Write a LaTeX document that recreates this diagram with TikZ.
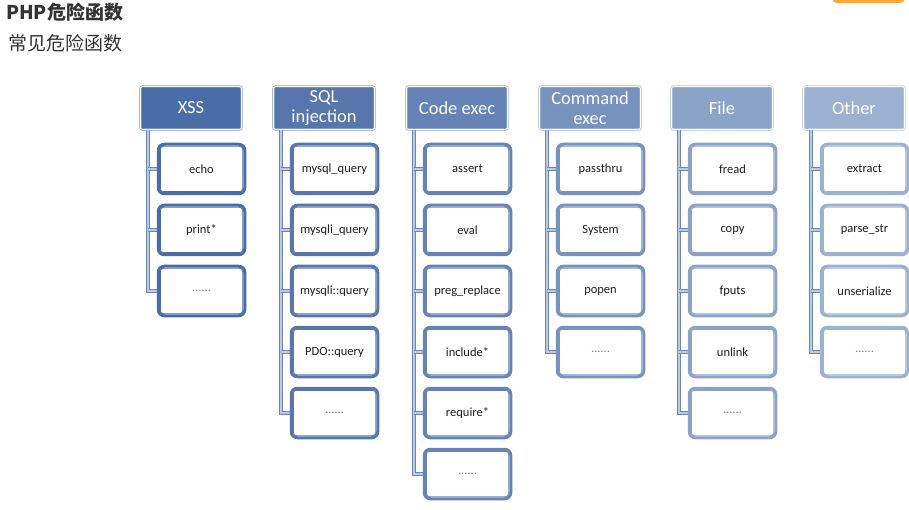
\documentclass[tikz,border=0pt]{standalone}
\usepackage{fontspec}
\setmainfont{Carlito}
\newfontfamily\cjk{Noto Sans CJK SC}
\definecolor{cA}{HTML}{4B6DA7}
\definecolor{cB}{HTML}{5676AC}
\definecolor{cC}{HTML}{6683B5}
\definecolor{cD}{HTML}{7892BE}
\definecolor{cE}{HTML}{8AA3C7}
\definecolor{cF}{HTML}{9CB1D0}
\definecolor{conn}{HTML}{6A86B8}
\definecolor{txt}{HTML}{333333}
\definecolor{ctxt}{HTML}{1E1E1E}
\definecolor{orng}{HTML}{FFA63C}
\tikzset{
  hdr/.style={fill=#1, draw=#1!75, double=white, line width=0.6pt, double distance=1pt,
    rounded corners=2pt, minimum width=101pt, minimum height=43pt, text=white,
    font=\fontsize{18.5}{20}\selectfont, align=center, inner sep=0pt},
  chd/.style={fill=white, draw=#1, line width=3pt, rounded corners=6pt,
    minimum width=86.5pt, minimum height=49.5pt, text=ctxt,
    font=\fontsize{12.5}{14}\selectfont, inner sep=0pt},
  inr/.style={draw=#1, line width=0.8pt, rounded corners=3pt},
  cn/.style={draw=conn, double=conn!45!white, line width=1.1pt, double distance=1.3pt}
}
\newcommand\childbox[5]{%
  \node[chd=#2] (#1) at (#3,#4) {#5};
  \draw[inr=#2] ([shift={(3.6pt,3.6pt)}]#1.south west) rectangle ([shift={(-3.6pt,-3.6pt)}]#1.north east);
}
\newcommand\dotstxt{\textcolor{gray}{......}}
\begin{document}
\begin{tikzpicture}[x=1pt,y=-1pt]
\useasboundingbox (0,0) rectangle (909,510);
% title
\node[anchor=west, text=txt, inner sep=0pt, font=\cjk\bfseries\fontsize{19}{22}\selectfont] (t1) at (6,12) {PHP危险函数};
\node[anchor=west, text=txt, inner sep=0pt, font=\cjk\fontsize{19}{22}\selectfont] (t2) at (8,43) {常见危险函数};
\fill[orng, rounded corners=5pt] (832,-10) rectangle (905,3);

% headers
\node[hdr=cA] (hA) at (191,108) {XSS};
\node[hdr=cB] (hB) at (324,108) {SQL\\injection};
\node[hdr=cC] (hC) at (457,108) {Code exec};
\node[hdr=cD] (hD) at (590,108) {Command\\exec};
\node[hdr=cE] (hE) at (722,108) {File};
\node[hdr=cF] (hF) at (854,108) {Other};

% connector x positions
\coordinate (vA) at (148,0);
\coordinate (vB) at (281,0);
\coordinate (vC) at (414,0);
\coordinate (vD) at (547,0);
\coordinate (vE) at (679,0);
\coordinate (vF) at (811,0);

% XSS
\foreach \k/\yy in {1/169,2/230,3/291} \coordinate (A\k) at (157,\yy);
\draw[cn] (hA.south -| vA) |- (A3);
\foreach \k in {1,2} \draw[cn] (A\k -| vA) -- (A\k);
\childbox{a1}{cA}{201.5}{169}{echo}
\childbox{a2}{cA}{201.5}{230}{print*}
\childbox{a3}{cA}{201.5}{291}{\dotstxt}

% SQL
\foreach \k/\yy in {1/169,2/230,3/291,4/352,5/413} \coordinate (B\k) at (290,\yy);
\draw[cn] (hB.south -| vB) |- (B5);
\foreach \k in {1,2,3,4} \draw[cn] (B\k -| vB) -- (B\k);
\childbox{b1}{cB}{334.5}{169}{mysql\_query}
\childbox{b2}{cB}{334.5}{230}{mysqli\_query}
\childbox{b3}{cB}{334.5}{291}{mysqli::query}
\childbox{b4}{cB}{334.5}{352}{PDO::query}
\childbox{b5}{cB}{334.5}{413}{\dotstxt}

% Code exec
\foreach \k/\yy in {1/169,2/230,3/291,4/352,5/413,6/474} \coordinate (C\k) at (423,\yy);
\draw[cn] (hC.south -| vC) |- (C6);
\foreach \k in {1,2,3,4,5} \draw[cn] (C\k -| vC) -- (C\k);
\childbox{c1}{cC}{467.5}{169}{assert}
\childbox{c2}{cC}{467.5}{230}{eval}
\childbox{c3}{cC}{467.5}{291}{preg\_replace}
\childbox{c4}{cC}{467.5}{352}{include*}
\childbox{c5}{cC}{467.5}{413}{require*}
\childbox{c6}{cC}{467.5}{474}{\dotstxt}

% Command exec
\foreach \k/\yy in {1/169,2/230,3/291,4/352} \coordinate (D\k) at (556,\yy);
\draw[cn] (hD.south -| vD) |- (D4);
\foreach \k in {1,2,3} \draw[cn] (D\k -| vD) -- (D\k);
\childbox{d1}{cD}{600.5}{169}{passthru}
\childbox{d2}{cD}{600.5}{230}{System}
\childbox{d3}{cD}{600.5}{291}{popen}
\childbox{d4}{cD}{600.5}{352}{\dotstxt}

% File
\foreach \k/\yy in {1/169,2/230,3/291,4/352,5/413} \coordinate (E\k) at (688,\yy);
\draw[cn] (hE.south -| vE) |- (E5);
\foreach \k in {1,2,3,4} \draw[cn] (E\k -| vE) -- (E\k);
\childbox{e1}{cE}{732.5}{169}{fread}
\childbox{e2}{cE}{732.5}{230}{copy}
\childbox{e3}{cE}{732.5}{291}{fputs}
\childbox{e4}{cE}{732.5}{352}{unlink}
\childbox{e5}{cE}{732.5}{413}{\dotstxt}

% Other
\foreach \k/\yy in {1/169,2/230,3/291,4/352} \coordinate (F\k) at (820,\yy);
\draw[cn] (hF.south -| vF) |- (F4);
\foreach \k in {1,2,3} \draw[cn] (F\k -| vF) -- (F\k);
\childbox{f1}{cF}{864.5}{169}{extract}
\childbox{f2}{cF}{864.5}{230}{parse\_str}
\childbox{f3}{cF}{864.5}{291}{unserialize}
\childbox{f4}{cF}{864.5}{352}{\dotstxt}
\end{tikzpicture}
\end{document}
